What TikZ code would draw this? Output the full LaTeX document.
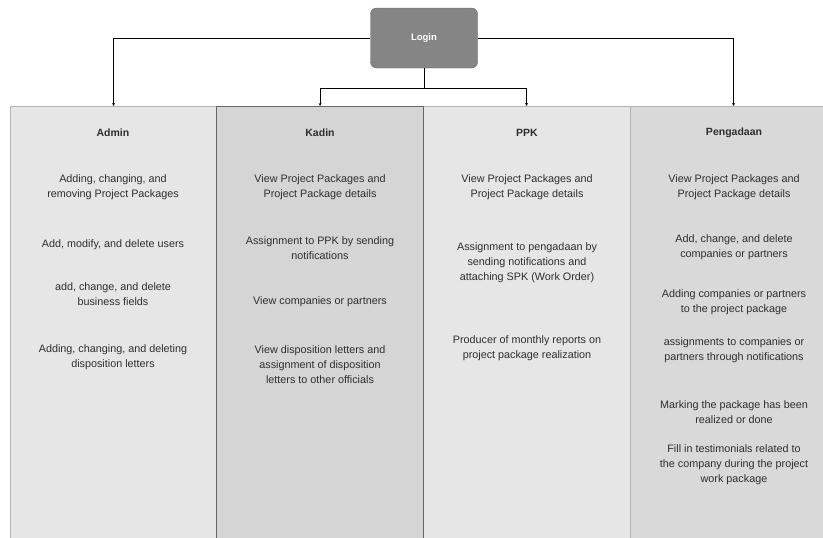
\documentclass[tikz,border=0pt]{standalone}
\usepackage{fontspec}
\setmainfont{Liberation Sans}
\usepackage{xcolor}
\usetikzlibrary{positioning}

\definecolor{lightcol}{HTML}{E6E6E6}
\definecolor{darkcol}{HTML}{D5D5D5}
\definecolor{pengcol}{HTML}{D9D9D9}
\definecolor{loginfill}{HTML}{858585}
\definecolor{textgray}{HTML}{2E2E2E}

\begin{document}
\begin{tikzpicture}[x=1pt,y=-1pt,>=stealth]
    \tikzset{
        lane/.style={rectangle,draw=gray!60,minimum width=207pt,minimum height=440pt,anchor=north,inner sep=0pt},
        head/.style={font=\fontsize{10.5}{12}\selectfont\bfseries,text=textgray},
        task/.style={font=\fontsize{10.8}{15}\selectfont,align=center,text=textgray,inner sep=0pt}
    }
    \useasboundingbox (0,0) rectangle (823,538);

    % Lanes
    \node[lane,fill=lightcol] (admin) at (113.5,106) {};
    \node[lane,fill=lightcol] (ppk) at (526.5,106) {};
    \node[lane,fill=pengcol] (pengadaan) at (733.5,106) {};
    \node[lane,fill=darkcol,draw=black!60,thick] (kadin) at (320,106) {};

    % Login and arrows
    \node[rectangle,rounded corners=6pt,draw=black!60,fill=loginfill,minimum width=107pt,minimum height=60pt,
          font=\fontsize{9.5}{11}\selectfont\bfseries,text=white] (login) at (424,38) {Login};
    \coordinate[below=20pt of login.south] (fork);

    \draw[->] (login.west) -| (admin.north);
    \draw[->] (login.east) -| (pengadaan.north);
    \draw (login.south) -- (fork);
    \draw[->] (fork) -| (kadin.north);
    \draw[->] (fork) -| (ppk.north);

    % Admin
    \node[head] (adminH) at (113,133) {Admin};
    \node[task] (admin1) at (113,187) {Adding, changing, and\\removing Project Packages};
    \node[task] (admin2) at (113,245) {Add, modify, and delete users};
    \node[task] (admin3) at (113,294) {add, change, and delete\\business fields};
    \node[task] (admin4) at (113,357) {Adding, changing, and deleting\\disposition letters};

    % Kadin
    \node[head] (kadinH) at (320,133) {Kadin};
    \node[task] (kadin1) at (320,187) {View Project Packages and\\Project Package details};
    \node[task] (kadin2) at (320,248) {Assignment to PPK by sending\\notifications};
    \node[task] (kadin3) at (320,302) {View companies or partners};
    \node[task] (kadin4) at (320,365) {View disposition letters and\\assignment of disposition\\letters to other officials};

    % PPK
    \node[head] (ppkH) at (527,133) {PPK};
    \node[task] (ppk1) at (527,187) {View Project Packages and\\Project Package details};
    \node[task] (ppk2) at (527,263) {Assignment to pengadaan by\\sending notifications and\\attaching SPK (Work Order)};
    \node[task] (ppk3) at (527,348) {Producer of monthly reports on\\project package realization};

    % Pengadaan
    \node[head] (pengH) at (734,133) {Pengadaan};
    \node[task] (peng1) at (734,187) {View Project Packages and\\Project Package details};
    \node[task] (peng2) at (734,247) {Add, change, and delete\\companies or partners};
    \node[task] (peng3) at (734,302) {Adding companies or partners\\to the project package};
    \node[task] (peng4) at (734,350) {assignments to companies or\\partners through notifications};
    \node[task] (peng5) at (734,412) {Marking the package has been\\realized or done};
    \node[task] (peng6) at (734,465) {Fill in testimonials related to\\the company during the project\\work package};
\end{tikzpicture}
\end{document}
